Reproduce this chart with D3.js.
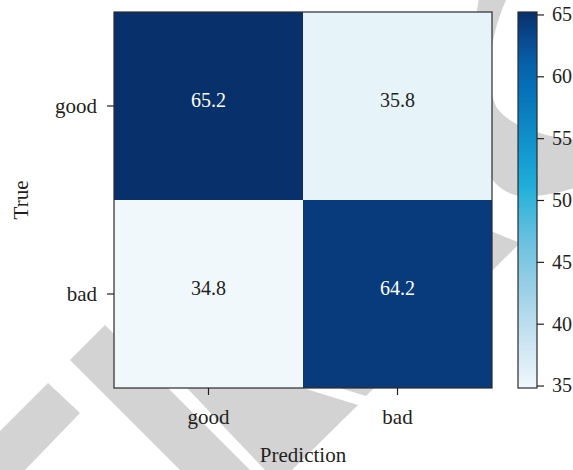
<!DOCTYPE html>
<html>
<head>
<meta charset="utf-8">
<script src="https://cdn.jsdelivr.net/npm/d3@7"></script>
<style>
  html, body { margin: 0; padding: 0; background: #fff; }
  svg { display: block; }
</style>
</head>
<body>
<svg id="chart" width="573" height="470"></svg>
<script>
// Confusion matrix (percent), rows = true class, columns = predicted class
const predictedLabels = ["good", "bad"];
const trueLabels = ["good", "bad"];
const rowGood = [65.2, 35.8];
const rowBad = [34.8, 64.2];
const colorbarTicks = [35, 40, 45, 50, 55, 60, 65];

// Palette for the sequential colour map, light to dark
const paletteStops = ["#f1f8fc", "#dbedf6", "#c8e3f1", "#b2d9ec", "#99cfe6", "#80c8e2",
  "#66c0df", "#45b8dc", "#22afd9", "#169fd2", "#0f8fca", "#0a7fc0", "#0570b6",
  "#0760a8", "#08478d", "#08306b"];

const FONT = '"Liberation Serif", "Times New Roman", "DejaVu Serif", serif';
const INK = "#231f20";

const svg = d3.select("#chart");
const plot = { left: 114, right: 492, top: 12, bottom: 388 };
const bar = { left: 518, right: 537 };

// Light grey logo shapes in the background
const bg = svg.append("g").attr("fill", "#d3d3d3");
bg.append("path").attr("d",
  "M479,-2 C462,100 470,192 522,196 C545,197 560,192 575,188 L575,140 C545,136 512,128 497,108 C482,80 492,30 507,-2 Z");
bg.append("path").attr("d", "M520,243 L440,210 L340,388 L366,396 Z");
bg.append("path").attr("d", "M187,388 L265,470 L292,470 L358,405 L303,388 Z");
bg.append("path").attr("d", "M70,360 L105,325 L250,470 L180,470 Z");
bg.append("path").attr("d", "M48,383 L0,431 L0,470 L25,470 L80,413 Z");

const matrix = [rowGood, rowBad];
const cells = [];
trueLabels.forEach((t, i) => predictedLabels.forEach((p, j) => cells.push({ t, p, v: matrix[i][j] })));

const allValues = matrix.flat();
const vMin = d3.min(allValues), vMax = d3.max(allValues);

const color = d3.scaleLinear()
  .domain(d3.range(paletteStops.length).map(k => vMin + (vMax - vMin) * k / (paletteStops.length - 1)))
  .range(paletteStops)
  .interpolate(d3.interpolateRgb);

const x = d3.scaleBand().domain(predictedLabels).range([plot.left, plot.right]).padding(0);
const y = d3.scaleBand().domain(trueLabels).range([plot.top, plot.bottom]).padding(0);

// Heatmap cells
svg.append("g").selectAll("rect").data(cells).join("rect")
  .attr("x", d => x(d.p))
  .attr("y", d => y(d.t))
  .attr("width", x.bandwidth())
  .attr("height", y.bandwidth())
  .attr("fill", d => color(d.v));

// Cell annotations
svg.append("g").selectAll("text").data(cells).join("text")
  .attr("x", d => x(d.p) + x.bandwidth() / 2)
  .attr("y", d => y(d.t) + y.bandwidth() / 2 + 1)
  .attr("text-anchor", "middle")
  .style("font-family", FONT)
  .style("font-size", "20px")
  .style("fill", d => d.v > (vMin + vMax) / 2 ? "#ffffff" : INK)
  .text(d => d.v.toFixed(1));

// Frame
svg.append("rect")
  .attr("x", plot.left).attr("y", plot.top)
  .attr("width", plot.right - plot.left).attr("height", plot.bottom - plot.top)
  .attr("fill", "none").attr("stroke", "#2b2b2b").attr("stroke-width", 1.2);

function styleAxis(size) {
  return g => {
    g.select(".domain").remove();
    g.selectAll(".tick line").attr("stroke", INK).attr("stroke-width", 1.2);
    g.selectAll(".tick text")
      .style("font-family", FONT).style("font-size", size + "px").style("fill", INK);
  };
}

svg.append("g")
  .attr("transform", `translate(0,${plot.bottom})`)
  .call(d3.axisBottom(x).tickSize(7).tickPadding(14))
  .call(styleAxis(21));

svg.append("g")
  .attr("transform", `translate(${plot.left},0)`)
  .call(d3.axisLeft(y).tickSize(7).tickPadding(10))
  .call(styleAxis(21));

// Axis titles
svg.append("text")
  .attr("x", (plot.left + plot.right) / 2).attr("y", 462)
  .attr("text-anchor", "middle")
  .style("font-family", FONT).style("font-size", "21px").style("fill", INK)
  .text("Prediction");
svg.append("text")
  .attr("transform", `translate(28,${(plot.top + plot.bottom) / 2}) rotate(-90)`)
  .attr("text-anchor", "middle")
  .style("font-family", FONT).style("font-size", "21px").style("fill", INK)
  .text("True");

// Colour bar
const cb = d3.scaleLinear().domain([vMin, vMax]).range([plot.bottom, plot.top]);
const grad = svg.append("defs").append("linearGradient")
  .attr("id", "cbGrad").attr("x1", 0).attr("y1", 1).attr("x2", 0).attr("y2", 0);
d3.range(0, 1.0001, 0.02).forEach(f => {
  grad.append("stop").attr("offset", f).attr("stop-color", color(vMin + f * (vMax - vMin)));
});
svg.append("rect")
  .attr("x", bar.left).attr("y", plot.top)
  .attr("width", bar.right - bar.left).attr("height", plot.bottom - plot.top)
  .attr("fill", "url(#cbGrad)")
  .attr("stroke", "#2b2b2b").attr("stroke-width", 1.2);

svg.append("g")
  .attr("transform", `translate(${bar.right},0)`)
  .call(d3.axisRight(cb).tickValues(colorbarTicks).tickSize(7).tickPadding(8).tickFormat(d3.format("d")))
  .call(styleAxis(20));
</script>
</body>
</html>
